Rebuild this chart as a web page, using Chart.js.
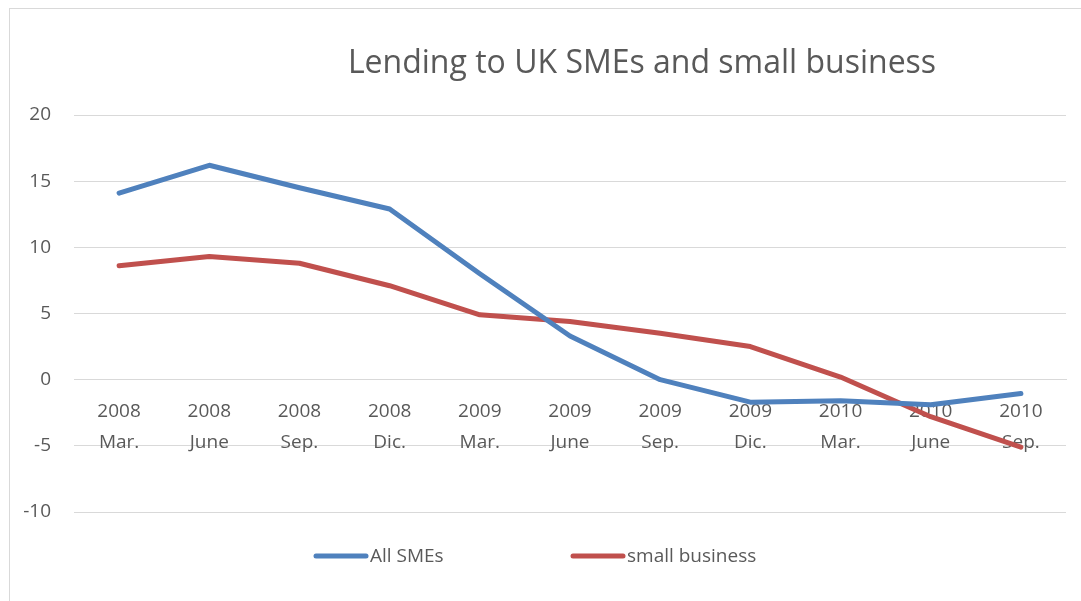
<!DOCTYPE html>
<html>
<head>
<meta charset="utf-8">
<title>Lending to UK SMEs and small business</title>
<script src="https://cdn.jsdelivr.net/npm/chart.js@4.4.1/dist/chart.umd.min.js"></script>
<style>
  html, body { margin: 0; padding: 0; background: #fff; }
  canvas { display: block; }
</style>
</head>
<body>
<canvas id="myChart" width="1081" height="601"></canvas>
<script>

var titulo = 'Lending to UK SMEs and small business';

var anos = ['2008', '2008', '2008', '2008', '2009', '2009', '2009', '2009', '2010', '2010', '2010'];
var meses = ['Mar.', 'June', 'Sep.', 'Dic.', 'Mar.', 'June', 'Sep.', 'Dic.', 'Mar.', 'June', 'Sep.'];

var nomes = ['All SMEs', 'small business'];
var todas_smes = [14.1, 16.2, 14.5, 12.9, 8.0, 3.3, 0.0, -1.7, -1.6, -1.9, -1.05];
var pequenas = [8.6, 9.3, 8.8, 7.1, 4.9, 4.4, 3.5, 2.5, 0.2, -2.8, -5.1];

var ticks_y = [-10, -5, 0, 5, 10, 15, 20];

var cores = ['#4f81bd', '#c0504d'];

// cada rotulo do eixo x tem duas linhas: ano e mes
var rotulos = anos.map(function(a, i){ return [a, meses[i]]; });

Chart.defaults.font.family = '"Open Sans", sans-serif';
Chart.defaults.color = '#595959';

// moldura, titulo e legenda desenhados a mao
var extras = {
    id: 'extras',
    beforeDraw: function(chart){
        var ctx = chart.ctx;
        ctx.save();
        ctx.fillStyle = '#ffffff';
        ctx.fillRect(0, 0, chart.width, chart.height);
        ctx.strokeStyle = '#d9d9d9';
        ctx.lineWidth = 1;
        ctx.strokeRect(9.5, 8.5, 1300, 800);
        ctx.restore();
    },
    afterDraw: function(chart){
        var ctx = chart.ctx;
        ctx.save();
        ctx.fillStyle = '#595959';
        ctx.font = '32px "Open Sans"';
        ctx.textAlign = 'center';
        ctx.textBaseline = 'alphabetic';
        ctx.fillText(titulo, 642, 73);

        var xs = [316, 573];
        ctx.font = '19px "Open Sans"';
        ctx.textAlign = 'left';
        ctx.textBaseline = 'middle';
        for (var i = 0; i < nomes.length; i++) {
            ctx.strokeStyle = cores[i];
            ctx.lineWidth = 5;
            ctx.lineCap = 'round';
            ctx.beginPath();
            ctx.moveTo(xs[i], 556);
            ctx.lineTo(xs[i] + 50, 556);
            ctx.stroke();
            ctx.fillText(nomes[i], xs[i] + 54, 557);
        }
        ctx.restore();
    }
};

const ctx = document.getElementById('myChart').getContext('2d');
const myChart = new Chart(ctx, {
    type: 'line',
    data: {
        labels: rotulos,
        datasets: [{
            label: nomes[0],
            data: todas_smes,
            borderColor: cores[0],
            backgroundColor: cores[0],
            borderWidth: 5,
            pointRadius: 0,
            borderCapStyle: 'round',
            borderJoinStyle: 'round',
            tension: 0
        }, {
            label: nomes[1],
            data: pequenas,
            borderColor: cores[1],
            backgroundColor: cores[1],
            borderWidth: 5,
            pointRadius: 0,
            borderCapStyle: 'round',
            borderJoinStyle: 'round',
            tension: 0
        }]
    },
    options: {
        responsive: false,
        animation: false,
        layout: {
            padding: { left: 0, right: 15, top: 115, bottom: 89 }
        },
        plugins: {
            legend: { display: false },
            title: { display: false },
            tooltip: { enabled: false }
        },
        scales: {
            x: {
                position: { y: 0 },
                offset: true,
                grid: { display: false, drawTicks: false },
                border: { display: true, color: '#d9d9d9', width: 1 },
                ticks: {
                    autoSkip: false,
                    maxRotation: 0,
                    padding: 17,
                    font: { size: 19, lineHeight: 1.6 }
                }
            },
            y: {
                min: -10,
                max: 20,
                afterBuildTicks: function(scale){
                    scale.ticks = ticks_y.map(function(v){ return { value: v }; });
                },
                afterFit: function(scale){
                    scale.width = 74;
                },
                grid: { color: '#d9d9d9', lineWidth: 1, drawTicks: false },
                border: { display: false },
                ticks: {
                    padding: 23,
                    font: { size: 19 }
                }
            }
        }
    },
    plugins: [extras]
});
</script>
</body>
</html>
